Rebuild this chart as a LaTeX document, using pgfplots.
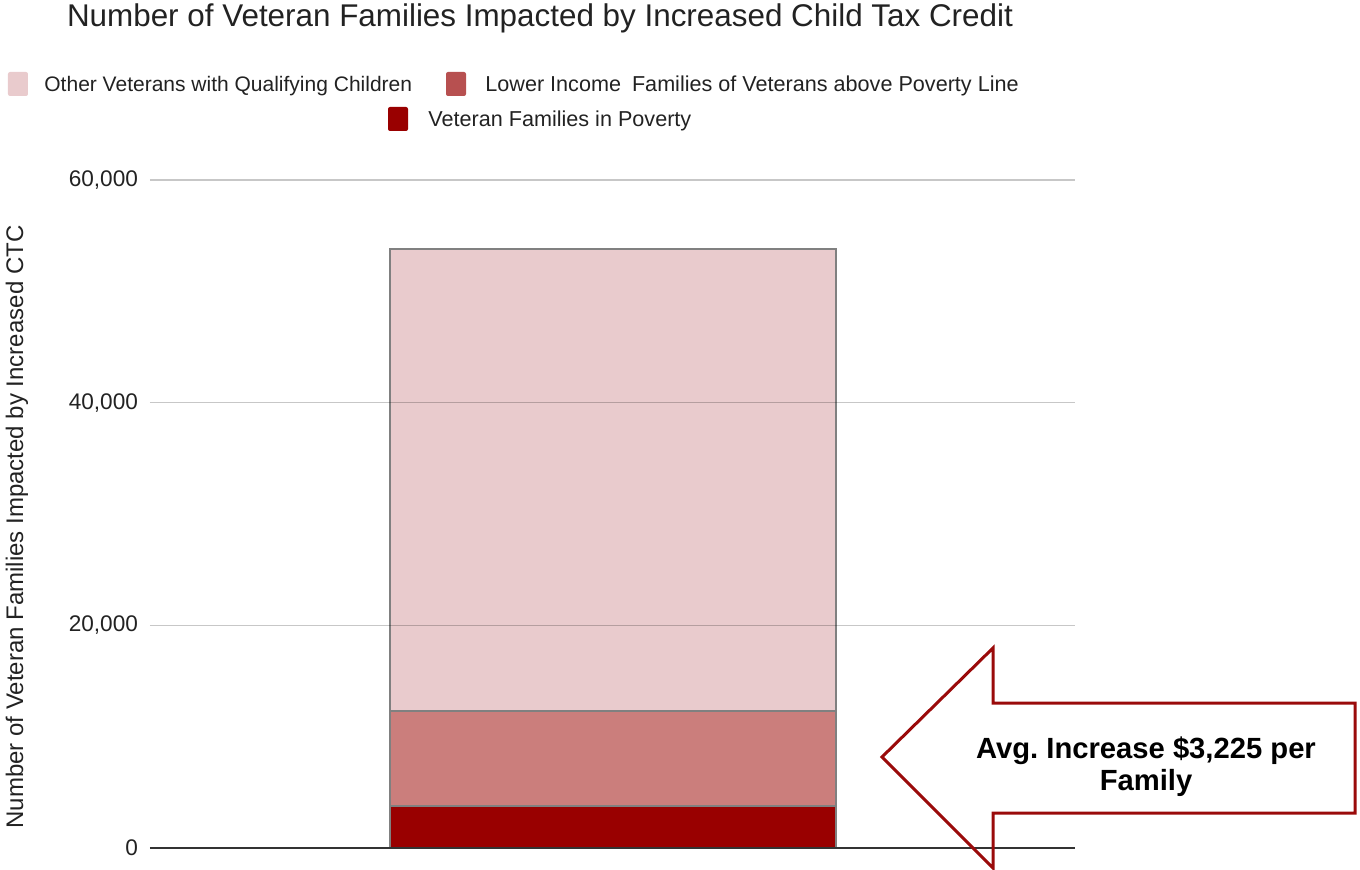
\documentclass[border=0pt]{standalone}
\usepackage{fontspec}
\setmainfont{Liberation Sans}
\usepackage{pgfplots}
\pgfplotsset{compat=1.18}
\definecolor{cOther}{HTML}{E9CBCD}
\definecolor{cLower}{HTML}{CB7E7C}
\definecolor{cLowerLeg}{HTML}{B75050}
\definecolor{cPov}{HTML}{990000}
\definecolor{arrowred}{HTML}{9A0A0A}
\definecolor{txt}{HTML}{222222}
\begin{document}
\frenchspacing
\begin{tikzpicture}
\path[use as bounding box] (-75pt,-10.5pt) rectangle (605pt,424pt);
\begin{axis}[
  at={(0pt,0pt)}, anchor=south west,
  scale only axis, width=462.5pt, height=334pt,
  xmin=-1, xmax=1, ymin=0, ymax=60000,
  ybar stacked, bar width=223pt,
  axis line style={draw=none},
  xtick=\empty,
  ytick={20000,40000,60000},
  extra y ticks={0},
  extra y tick style={major grid style={draw=black!80, line width=1pt, opacity=1}},
  ymajorgrids,
  major grid style={draw=black, opacity=0.22, line width=0.6pt},
  major tick length=0pt,
  axis on top,
  scaled y ticks=false,
  yticklabel style={font=\fontsize{11.3}{13}\selectfont, text=txt, xshift=-2.5pt,
    /pgf/number format/.cd, 1000 sep={,}, assume math mode=true},
  ylabel={Number of Veteran Families Impacted by Increased CTC},
  ylabel style={at={(axis description cs:-0.1438,0.4805)}, anchor=center,
    font=\fontsize{12}{14}\selectfont, text=txt},
  title={Number of Veteran Families Impacted by Increased Child Tax Credit},
  title style={at={(axis description cs:0.4216,1.2125)}, anchor=base,
    font=\fontsize{15.7}{18}\selectfont, text=txt},
]
\addplot[fill=cPov, draw=black!50, line width=1pt] coordinates {(0,3770)};
\addplot[fill=cLower, draw=black!50, line width=1pt] coordinates {(0,8530)};
\addplot[fill=cOther, draw=black!50, line width=1pt] coordinates {(0,41500)};
\end{axis}
% legend
\fill[cOther, rounded corners=1pt] (-71pt,376pt) rectangle (-61pt,388pt);
\node[anchor=base west, inner sep=0pt, text=txt, font=\fontsize{10.5}{12}\selectfont] at (-53pt,378.25pt) {Other Veterans with Qualifying Children};
\fill[cLowerLeg, rounded corners=1pt] (148pt,376pt) rectangle (158pt,388pt);
\node[anchor=base west, inner sep=0pt, text=txt, font=\fontsize{10.8}{12}\selectfont] at (167.5pt,378.25pt) {Lower Income\hspace{5.5pt}Families of Veterans above Poverty Line};
\fill[cPov, rounded corners=1pt] (119pt,358.5pt) rectangle (129pt,370.5pt);
\node[anchor=base west, inner sep=0pt, text=txt, font=\fontsize{10.8}{12}\selectfont] at (139pt,360.75pt) {Veteran Families in Poverty};
% arrow annotation
\draw[arrowred, line width=1.5pt, line join=miter] (366pt,45.5pt) -- (421.5pt,100pt) -- (421.5pt,72.5pt) -- (602.5pt,72.5pt) -- (602.5pt,17.5pt) -- (421.5pt,17.5pt) -- (421.5pt,-10pt) -- cycle;
\node[anchor=base, inner sep=0pt, font=\fontsize{14.6}{16}\selectfont\bfseries] at (498pt,44.75pt) {Avg. Increase \$3,225 per};
\node[anchor=base, inner sep=0pt, font=\fontsize{14.6}{16}\selectfont\bfseries] at (498pt,28.75pt) {Family};
\end{tikzpicture}
\end{document}
